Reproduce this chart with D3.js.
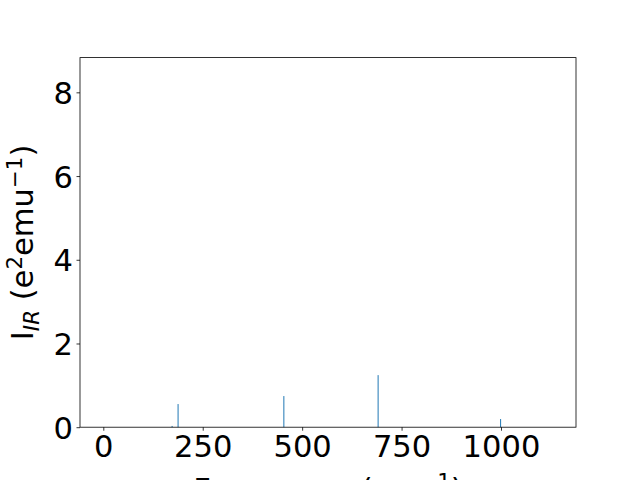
<!DOCTYPE html>
<html>
<head>
<meta charset="utf-8">
<script src="https://cdn.jsdelivr.net/npm/d3@7"></script>
<style>
html,body{margin:0;padding:0;background:#fff;overflow:hidden;}
svg{display:block;font-family:"DejaVu Sans",sans-serif;}
</style>
</head>
<body>
<script>
// Data
const frequencies = [173, 188, 454, 691, 999];
const intensities = [0.03, 0.553, 0.744, 1.244, 0.195];
const xTicks = [0, 250, 500, 750, 1000];
const yTicks = [0, 2, 4, 6, 8];
const xLabel = "Frequency (cm";
const yLabel = "I";

const W = 640, H = 480;
const m = {left: 80, right: 576, top: 57.6, bottom: 427.2};

const svg = d3.select("body").append("svg").attr("width", W).attr("height", H);
svg.append("rect").attr("width", W).attr("height", H).attr("fill", "#fff");

const x = d3.scaleLinear().domain([-58.6, 1188.6]).range([m.left, m.right]);
const y = d3.scaleLinear().domain([0, 8.83]).range([m.bottom, m.top]);

const barW = 2.5;
svg.append("g").selectAll("rect").data(frequencies).join("rect")
  .attr("x", (d) => x(d - barW / 2))
  .attr("width", x(barW) - x(0))
  .attr("y", (d, i) => y(intensities[i]))
  .attr("height", (d, i) => y(0) - y(intensities[i]))
  .attr("fill", "#1f77b4");

const fs = 30.56;
const xAxis = d3.axisBottom(x).tickValues(xTicks).tickSize(3.5).tickPadding(3.5).tickFormat(d3.format("d"));
const gx = svg.append("g").attr("transform", `translate(0,${m.bottom})`).call(xAxis);
const yAxis = d3.axisLeft(y).tickValues(yTicks).tickSize(3.5).tickPadding(3.5).tickFormat(d3.format("d"));
const gy = svg.append("g").attr("transform", `translate(${m.left},0)`).call(yAxis);
[gx, gy].forEach(g => {
  g.select(".domain").remove();
  g.selectAll(".tick line").attr("stroke", "#000").attr("stroke-width", 0.8);
  g.selectAll(".tick text").attr("fill", "#000").attr("font-size", fs).attr("font-family", "DejaVu Sans");
});
gy.selectAll(".tick text").attr("dy", "0.36em");
gx.selectAll(".tick text").attr("dy", "0.76em");

// frame
svg.append("rect").attr("x", m.left).attr("y", m.top)
  .attr("width", m.right - m.left).attr("height", m.bottom - m.top)
  .attr("fill", "none").attr("stroke", "#000").attr("stroke-width", 0.8);

// x label
const xl = svg.append("text").attr("x", (m.left + m.right) / 2).attr("y", 500)
  .attr("text-anchor", "middle").attr("font-size", fs).attr("fill", "#000");
xl.append("tspan").text(xLabel);
xl.append("tspan").attr("font-size", fs * 0.7).attr("dy", -11).text("−1");
xl.append("tspan").attr("dy", 11).text(")");

// y label
const yl = svg.append("text").attr("transform", `translate(33,${(m.top + m.bottom) / 2}) rotate(-90)`)
  .attr("text-anchor", "middle").attr("font-size", fs).attr("fill", "#000");
yl.append("tspan").text(yLabel);
yl.append("tspan").attr("font-size", fs * 0.7).attr("font-style", "italic").attr("dy", 6).text("IR");
yl.append("tspan").attr("dy", -6).text(" (e");
yl.append("tspan").attr("font-size", fs * 0.7).attr("dy", -11).text("2");
yl.append("tspan").attr("dy", 11).text("emu");
yl.append("tspan").attr("font-size", fs * 0.7).attr("dy", -11).text("−1");
yl.append("tspan").attr("dy", 11).text(")");
</script>
</body>
</html>
